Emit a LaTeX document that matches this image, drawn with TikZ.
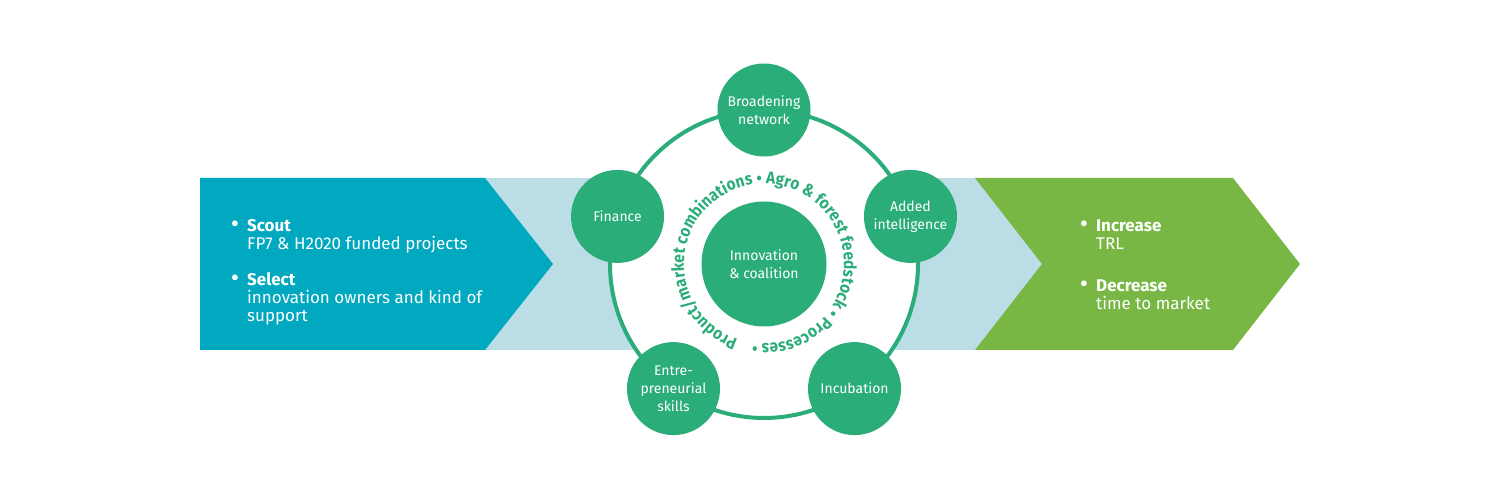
\documentclass[tikz,border=0pt]{standalone}
\usepackage{fontspec}
\setmainfont{Fira Sans}
\newfontfamily\ringfont[FakeStretch=0.9]{Fira Sans}
\usetikzlibrary{decorations.text}
\definecolor{scoutblue}{HTML}{00A8C0}
\definecolor{bandblue}{HTML}{BADDE6}
\definecolor{hubgreen}{HTML}{2AAD78}
\definecolor{gaingreen}{HTML}{78B744}
\newcommand{\ampsign}{\&}
\newcommand{\listdot}{\llap{\raisebox{-0.6pt}{\scalebox{1.5}{\textbullet}}\hspace{8pt}}}

\begin{document}
\begin{tikzpicture}[x=1pt, y=1pt,
  step circle/.style={circle, fill=hubgreen, minimum size=93pt, inner sep=0pt,
    align=center, text=white, font=\fontsize{14}{18}\selectfont},
  core circle/.style={step circle, minimum size=125pt},
  list text/.style={anchor=base west, align=left, text=white, inner sep=0pt,
    font=\fontsize{17}{18}\selectfont}]
\useasboundingbox (0,0) rectangle (1500,500);
% band and arrows
\fill[bandblue] (485,150) rectangle (1042,322);
\fill[scoutblue] (200,322) -- (485,322) -- (553,236) -- (485,150) -- (200,150) -- cycle;
\fill[gaingreen] (975,322) -- (1233,322) -- (1300,236) -- (1233,150) -- (975,150) -- (1042,236) -- cycle;
% ring
\coordinate (hub) at (764,236);
\draw[hubgreen, line width=4pt, fill=white] (hub) circle[radius=154];
\path[decorate, decoration={text along path, text align=fit to path, text color=hubgreen,
  text={|\ringfont\fontsize{17}{17}\selectfont\bfseries|Product/market combinations {•} Agro {\ampsign} forest feedstock {•} Processes {•}}}]
  ([shift={(251:80)}]hub) arc[start angle=251, end angle=-98, radius=80];
% nodes
\node[core circle] (core) at (hub) {Innovation\\\& coalition};
\node[step circle] (network) at ([shift={(90:154)}]hub) {Broadening\\network};
\node[step circle] (intel) at ([shift={(18:154)}]hub) {Added\\intelligence};
\node[step circle] (incub) at ([shift={(-54:154)}]hub) {Incubation};
\node[step circle] (skills) at ([shift={(-126:154)}]hub) {Entre-\\preneurial\\skills};
\node[step circle] (finance) at ([shift={(162:154)}]hub) {Finance};
% lists (anchored at the last line)
\node[list text] (scout) at (247,250) {\listdot\textbf{Scout}\\FP7 \& H2020 funded projects};
\node[list text] (select) at (247,178) {\listdot\textbf{Select}\\innovation owners and kind of\\support};
\node[list text] (increase) at (1096,250) {\listdot\textbf{Increase}\\TRL};
\node[list text] (decrease) at (1096,190) {\listdot\textbf{Decrease}\\time to market};
\end{tikzpicture}
\end{document}
